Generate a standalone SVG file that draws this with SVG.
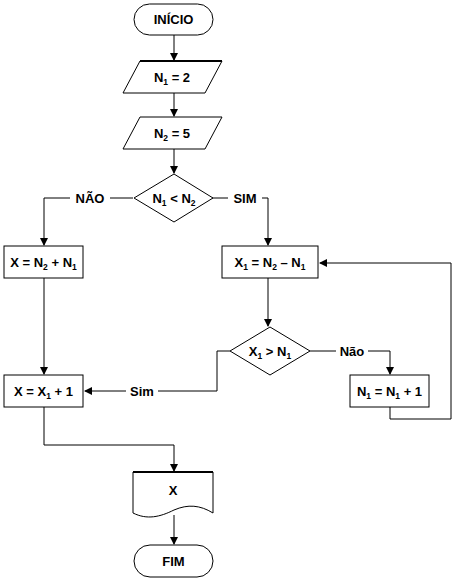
<svg xmlns="http://www.w3.org/2000/svg" width="454" height="582" viewBox="0 0 454 582">
<style>
.s{fill:#fff;stroke:#000;stroke-width:1}
.c{fill:none;stroke:#000;stroke-width:1}
.t{font-family:"Liberation Sans",Arial,sans-serif;font-weight:bold;font-size:13px;text-anchor:middle;fill:#000}
.sub{font-size:8.5px}
</style>
<defs>
<marker id="a" markerWidth="8" markerHeight="8" refX="7" refY="4" orient="auto" markerUnits="userSpaceOnUse">
<path d="M0,0 L8,4 L0,8 Z" fill="#000"/>
</marker>
</defs>
<rect width="454" height="582" fill="#fff"/>
<g id="connectors">
<path class="c" d="M174,35 V60" marker-end="url(#a)"/>
<path class="c" d="M174,93 V116" marker-end="url(#a)"/>
<path class="c" d="M174,149 V173" marker-end="url(#a)"/>
<path class="c" d="M133,198 H44 V245" marker-end="url(#a)"/>
<path class="c" d="M212,198 H268 V245" marker-end="url(#a)"/>
<path class="c" d="M268,278 V326" marker-end="url(#a)"/>
<path class="c" d="M310,351 H390 V374" marker-end="url(#a)"/>
<path class="c" d="M390,407 V419 H451 V263 H320" marker-end="url(#a)"/>
<path class="c" d="M230,351 H217 V391 H85" marker-end="url(#a)"/>
<path class="c" d="M44,278 V374" marker-end="url(#a)"/>
<path class="c" d="M44,407 V445 H174 V471" marker-end="url(#a)"/>
<path class="c" d="M174,515 V544" marker-end="url(#a)"/>
<rect x="70" y="191" width="40" height="14" fill="#fff"/>
<text class="t" x="90" y="203">NÃO</text>
<rect x="228" y="191" width="34" height="14" fill="#fff"/>
<text class="t" x="245" y="203">SIM</text>
<rect x="336" y="344" width="32" height="14" fill="#fff"/>
<text class="t" x="352" y="356">Não</text>
<rect x="126" y="384" width="32" height="14" fill="#fff"/>
<text class="t" x="142" y="396">Sim</text>
</g>
<g id="inicio">
<rect class="s" x="134" y="4" width="79" height="31" rx="15.5"/>
<text class="t" x="173.5" y="24">INÍCIO</text>
</g>
<g id="n1">
<path class="s" d="M140,61 H222 L205,93 H123 Z"/>
<path class="c" d="M140,61 H222" style="stroke-width:2"/>
<text class="t" x="172" y="82">N<tspan class="sub" dy="3">1</tspan><tspan dy="-3"> = 2</tspan></text>
</g>
<g id="n2">
<path class="s" d="M140,117 H222 L205,149 H123 Z"/>
<text class="t" x="172" y="138">N<tspan class="sub" dy="3">2</tspan><tspan dy="-3"> = 5</tspan></text>
</g>
<g id="cond1">
<path class="s" d="M174,174 L213,198 L174,222 L134,198 Z"/>
<text class="t" x="174" y="203">N<tspan class="sub" dy="3">1</tspan><tspan dy="-3"> &lt; N</tspan><tspan class="sub" dy="3">2</tspan></text>
</g>
<g id="xsum">
<rect class="s" x="4" y="246" width="79" height="32"/>
<text class="t" x="43.5" y="267">X = N<tspan class="sub" dy="3">2</tspan><tspan dy="-3"> + N</tspan><tspan class="sub" dy="3">1</tspan></text>
</g>
<g id="x1diff">
<rect class="s" x="222" y="246" width="96" height="32"/>
<text class="t" x="270" y="267">X<tspan class="sub" dy="3">1</tspan><tspan dy="-3"> = N</tspan><tspan class="sub" dy="3">2</tspan><tspan dy="-3"> – N</tspan><tspan class="sub" dy="3">1</tspan></text>
</g>
<g id="cond2">
<path class="s" d="M270,327 L310,351 L270,375 L230,351 Z"/>
<text class="t" x="270" y="356">X<tspan class="sub" dy="3">1</tspan><tspan dy="-3"> &gt; N</tspan><tspan class="sub" dy="3">1</tspan></text>
</g>
<g id="n1inc">
<rect class="s" x="350" y="375" width="79" height="32"/>
<text class="t" x="389.5" y="396">N<tspan class="sub" dy="3">1</tspan><tspan dy="-3"> = N</tspan><tspan class="sub" dy="3">1</tspan><tspan dy="-3"> + 1</tspan></text>
</g>
<g id="xinc">
<rect class="s" x="4" y="375" width="79" height="32"/>
<text class="t" x="43.5" y="396">X = X<tspan class="sub" dy="3">1</tspan><tspan dy="-3"> + 1</tspan></text>
</g>
<g id="saida">
<path class="s" d="M133,472 H213 V513 C200,505 188,504 174,510 C160,517 147,520 133,513 Z"/>
<path class="c" d="M133,472 H213" style="stroke-width:2"/>
<text class="t" x="173" y="495">X</text>
</g>
<g id="fim">
<rect class="s" x="134" y="545" width="79" height="32" rx="16"/>
<text class="t" x="173.5" y="566">FIM</text>
</g>
</svg>
